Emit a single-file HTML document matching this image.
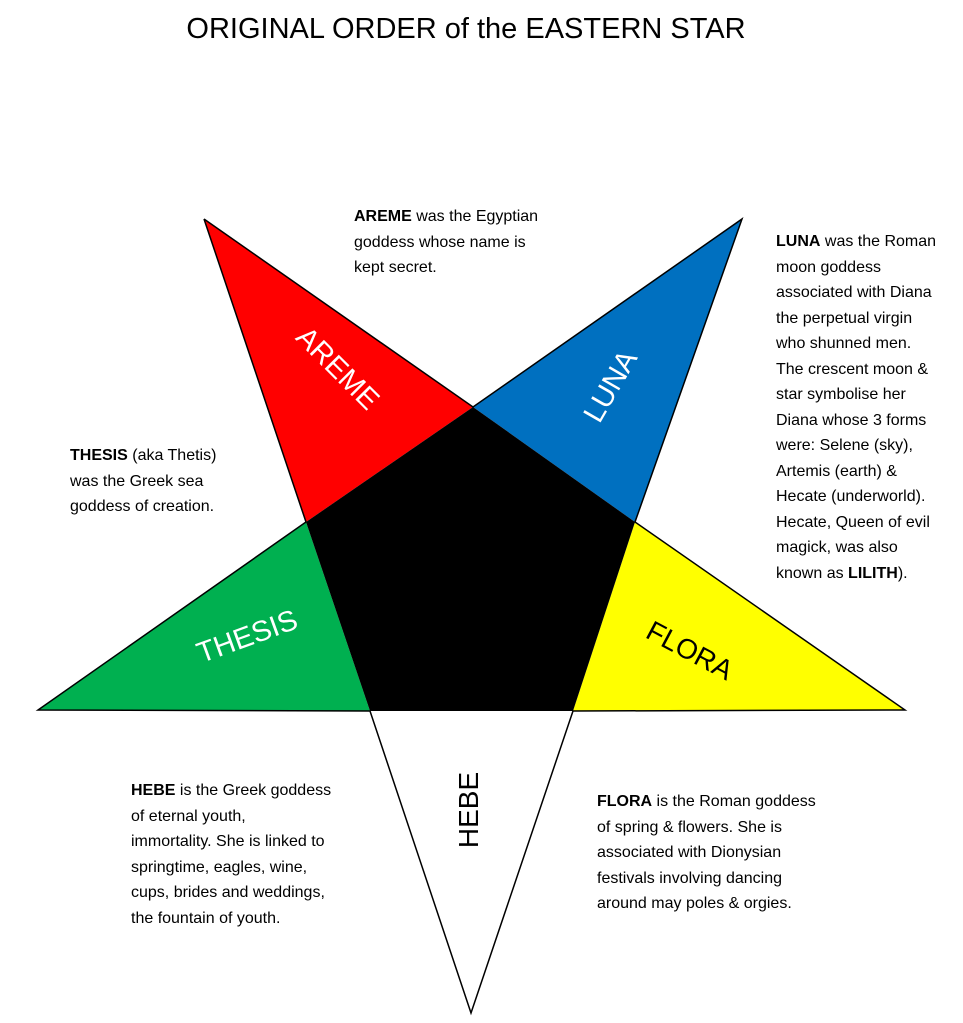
<!DOCTYPE html>
<html><head><meta charset="utf-8"><style>
html,body{margin:0;padding:0;background:#fff;}
body{width:963px;height:1023px;position:relative;overflow:hidden;font-family:"Liberation Sans",sans-serif;}
.t{position:absolute;font-size:16px;line-height:25.5px;color:#000;}
b{font-weight:bold;}
</style></head><body>
<svg width="963" height="1023" style="position:absolute;left:0;top:0">
<text x="466" y="38" font-size="29" text-anchor="middle" font-family="Liberation Sans">ORIGINAL ORDER of the EASTERN STAR</text>
<polygon points="204,219 473,407 306,522" fill="#ff0000"/>
<polygon points="742,219 635,522 473,407" fill="#0070c0"/>
<polygon points="38,710 306,522 370,711" fill="#00b050"/>
<polygon points="905,710 573,711 635,522" fill="#ffff00"/>
<polygon points="473,407 635,522 573,711 370,711 306,522" fill="#000"/>
<polyline points="204,219 473,407 742,219 635,522 905,710 573,711 471,1013 370,711 38,710 306,522 204,219" fill="none" stroke="#000" stroke-width="1.5"/>
<g font-family="Liberation Sans" fill="#fff" font-size="29" text-anchor="middle">
<text transform="translate(338,368) rotate(45)" dy="10">AREME</text>
<text transform="translate(610,386) rotate(-60)" dy="10">LUNA</text>
<text transform="translate(247,636) rotate(-20)" dy="10">THESIS</text>
</g>
<text transform="translate(690,650) rotate(28)" dy="10" font-family="Liberation Sans" font-size="28" text-anchor="middle">FLORA</text>
<text transform="translate(468,810) rotate(-90)" dy="10" font-family="Liberation Sans" font-size="28" text-anchor="middle">HEBE</text>
</svg>
<div class="t" style="left:354px;top:204px"><b>AREME</b> was the Egyptian<br>goddess whose name is<br>kept secret.</div>
<div class="t" style="left:776px;top:229px"><b>LUNA</b> was the Roman<br>moon goddess<br>associated with Diana<br>the perpetual virgin<br>who shunned men.<br>The crescent moon &amp;<br>star symbolise her<br>Diana whose 3 forms<br>were: Selene (sky),<br>Artemis (earth) &amp;<br>Hecate (underworld).<br>Hecate, Queen of evil<br>magick, was also<br>known as <b>LILITH</b>).</div>
<div class="t" style="left:70px;top:443px"><b>THESIS</b> (aka Thetis)<br>was the Greek sea<br>goddess of creation.</div>
<div class="t" style="left:131px;top:778px"><b>HEBE</b> is the Greek goddess<br>of eternal youth,<br>immortality. She is linked to<br>springtime, eagles, wine,<br>cups, brides and weddings,<br>the fountain of youth.</div>
<div class="t" style="left:597px;top:789px"><b>FLORA</b> is the Roman goddess<br>of spring &amp; flowers. She is<br>associated with Dionysian<br>festivals involving dancing<br>around may poles &amp; orgies.</div>
</body></html>
